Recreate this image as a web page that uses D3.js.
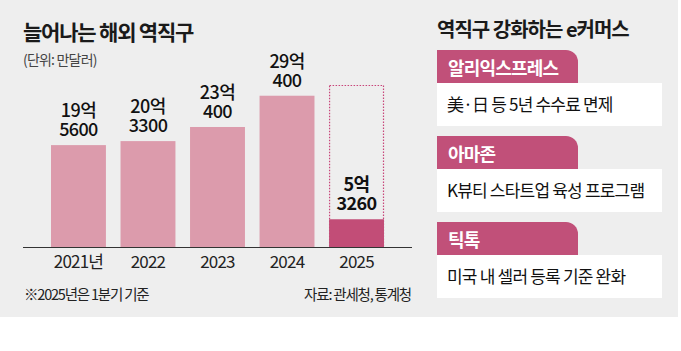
<!DOCTYPE html>
<html>
<head>
    <meta charset="utf-8">
    <title>늘어나는 해외 역직구</title>
    <script src="https://d3js.org/d3.v7.min.js"></script>
    <style>
        body { margin: 0; background: #fff; }
        text { font-family: "Noto Sans CJK KR", "Noto Sans", sans-serif; }
    </style>
</head>
<body>
    <script>
        // 단위: 만달러
        var years = ["2021년", "2022", "2023", "2024", "2025"];
        var amounts = [195600, 203300, 230400, 290400, 53260];
        var yMax = 311000; // 점선 박스 높이 (2025 연간 자리)

        var companies = ["알리익스프레스", "아마존", "틱톡"];
        var policies = ["美·日 등 5년 수수료 면제", "K뷰티 스타트업 육성 프로그램", "미국 내 셀러 등록 기준 완화"];

        var svg = d3.select("body")
            .append("svg")
            .attr("width", 681)
            .attr("height", 351);

        svg.append("rect")
            .attr("width", 678)
            .attr("height", 317)
            .attr("fill", "#eeeeee");

        // 왼쪽 제목
        svg.append("text")
            .attr("x", 23).attr("y", 40)
            .attr("font-size", 21).attr("font-weight", 700)
            .attr("letter-spacing", -1.2)
            .attr("fill", "#1a1a1a")
            .text("늘어나는 해외 역직구");

        svg.append("text")
            .attr("x", 23).attr("y", 65)
            .attr("font-size", 14).attr("letter-spacing", -0.8)
            .attr("fill", "#444")
            .text("(단위: 만달러)");

        var x = d3.scaleBand()
            .domain(years)
            .range([51, 384])
            .paddingInner(0.21)
            .paddingOuter(0);

        var y = d3.scaleLinear()
            .domain([0, yMax])
            .range([247, 85]);

        var data = years.map(function(d, i) {
            return { year: d, value: amounts[i], last: i === years.length - 1 };
        });

        // 2025 점선 박스
        svg.append("rect")
            .attr("x", x("2025") + 0.5)
            .attr("y", y(yMax) + 0.5)
            .attr("width", x.bandwidth() - 1)
            .attr("height", y(0) - y(yMax) - 0.5)
            .attr("fill", "none")
            .attr("stroke", "#c8467a")
            .attr("stroke-width", 1.2)
            .attr("stroke-dasharray", "1.5,1.5");

        svg.selectAll("rect.bar")
            .data(data)
            .enter()
            .append("rect")
            .attr("class", "bar")
            .attr("x", function(d) { return x(d.year); })
            .attr("y", function(d) { return y(d.value); })
            .attr("width", x.bandwidth())
            .attr("height", function(d) { return y(0) - y(d.value); })
            .attr("fill", function(d) { return d.last ? "#c24d77" : "#dc9bac"; });

        // 값 레이블 (억 / 만)
        svg.selectAll("text.eok")
            .data(data)
            .enter()
            .append("text")
            .attr("class", "eok")
            .attr("x", function(d) { return x(d.year) + x.bandwidth() / 2; })
            .attr("y", function(d) { return y(d.value) - 28; })
            .attr("text-anchor", "middle")
            .attr("font-size", 18)
            .attr("letter-spacing", -0.6)
            .attr("font-weight", function(d) { return d.last ? 700 : 500; })
            .attr("fill", "#111")
            .text(function(d) { return Math.floor(d.value / 10000) + "억"; });

        svg.selectAll("text.man")
            .data(data)
            .enter()
            .append("text")
            .attr("class", "man")
            .attr("x", function(d) { return x(d.year) + x.bandwidth() / 2; })
            .attr("y", function(d) { return y(d.value) - 9; })
            .attr("text-anchor", "middle")
            .attr("font-size", 18)
            .attr("letter-spacing", -0.6)
            .attr("font-weight", function(d) { return d.last ? 700 : 500; })
            .attr("fill", "#111")
            .text(function(d) { return d.value % 10000; });

        // x축
        svg.append("line")
            .attr("x1", 23).attr("x2", 412)
            .attr("y1", 247.5).attr("y2", 247.5)
            .attr("stroke", "#333").attr("stroke-width", 1);

        svg.selectAll("text.year")
            .data(years)
            .enter()
            .append("text")
            .attr("class", "year")
            .attr("x", function(d) { return x(d) + x.bandwidth() / 2; })
            .attr("y", 268)
            .attr("text-anchor", "middle")
            .attr("font-size", 17)
            .attr("letter-spacing", -0.8)
            .attr("fill", "#222")
            .text(function(d) { return d; });

        svg.append("text")
            .attr("x", 24).attr("y", 300)
            .attr("font-size", 14.5).attr("letter-spacing", -1.2)
            .attr("fill", "#222")
            .text("※2025년은 1분기 기준");

        svg.append("text")
            .attr("x", 411).attr("y", 300)
            .attr("text-anchor", "end")
            .attr("font-size", 14.5).attr("letter-spacing", -1.2)
            .attr("fill", "#222")
            .text("자료: 관세청, 통계청");

        // 오른쪽 패널
        svg.append("text")
            .attr("x", 437).attr("y", 37)
            .attr("font-size", 20).attr("font-weight", 700)
            .attr("letter-spacing", -1)
            .attr("fill", "#1a1a1a")
            .text("역직구 강화하는 e커머스");

        var panelX = 437, tabW = 141, boxW = 225, tabH = 33, boxH = 43, rowStep = 86, r = 12;

        var rows = svg.selectAll("g.row")
            .data(companies)
            .enter()
            .append("g")
            .attr("class", "row")
            .attr("transform", function(d, i) { return "translate(" + panelX + "," + (50 + i * rowStep) + ")"; });

        rows.append("path")
            .attr("d", "M0," + tabH + "V0H" + (tabW - r) + "A" + r + "," + r + " 0 0 1 " + tabW + "," + r + "V" + tabH + "Z")
            .attr("fill", "#c15079");

        rows.append("text")
            .attr("x", 11).attr("y", 25)
            .attr("font-size", 18).attr("font-weight", 700)
            .attr("letter-spacing", -0.8)
            .attr("fill", "#fff")
            .text(function(d) { return d; });

        rows.append("rect")
            .attr("y", tabH)
            .attr("width", boxW)
            .attr("height", boxH)
            .attr("fill", "#fff");

        rows.append("text")
            .attr("x", 10).attr("y", tabH + 28)
            .attr("font-size", 17)
            .attr("letter-spacing", -0.8)
            .attr("fill", "#111")
            .text(function(d, i) { return policies[i]; });
    </script>
</body>
</html>
